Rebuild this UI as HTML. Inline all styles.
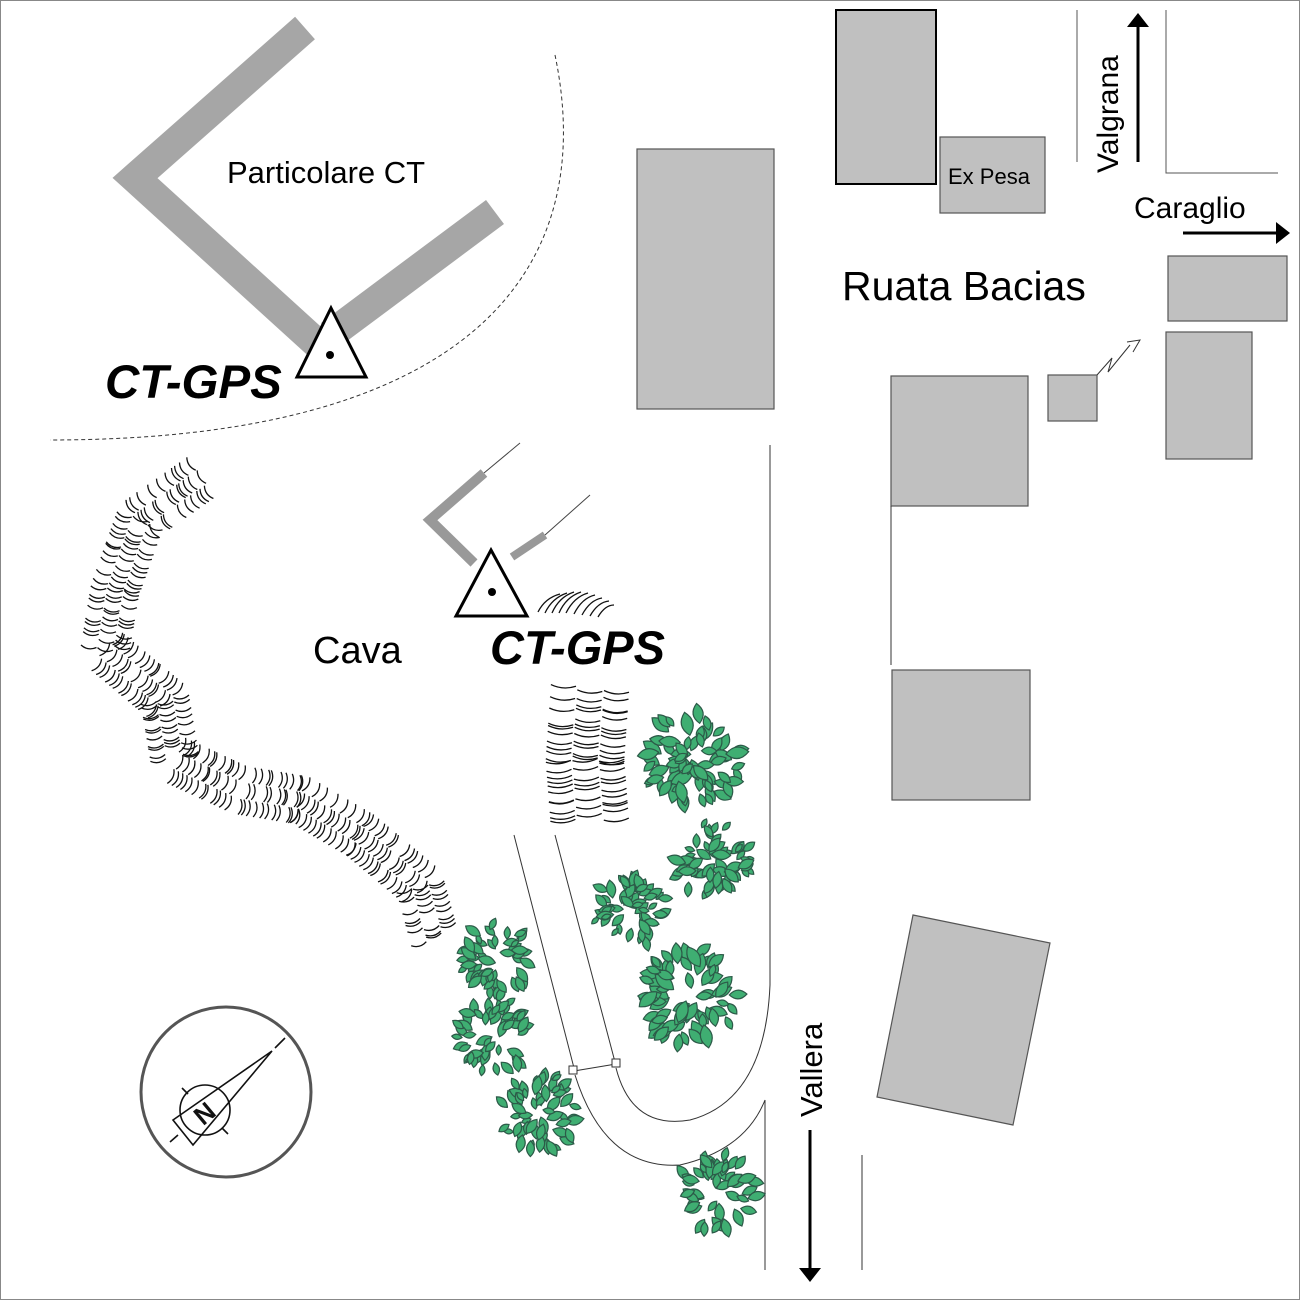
<!DOCTYPE html>
<html><head><meta charset="utf-8"><style>
html,body{margin:0;padding:0;background:#fff}
svg{display:block}
text{font-family:"Liberation Sans",sans-serif}
</style></head><body>
<svg id="s" width="1300" height="1300" viewBox="0 0 1300 1300" xmlns="http://www.w3.org/2000/svg">
<defs>
<marker id="ah" markerWidth="14" markerHeight="22" refX="12" refY="11" orient="auto" markerUnits="userSpaceOnUse"><path d="M0,0 L14,11 L0,22 z" fill="#000"/></marker>
</defs>
<rect x="0.5" y="0.5" width="1299" height="1299" fill="#fff" stroke="#888"/>
<polyline points="305,28 135,178 322,348" fill="none" stroke="#a6a6a6" stroke-width="30"/>
<line x1="330" y1="335" x2="495" y2="212" stroke="#a6a6a6" stroke-width="30"/>
<polygon points="331,308 366,377 297,377" fill="#fff" stroke="#000" stroke-width="3"/>
<circle cx="330" cy="355" r="4" fill="#000"/>
<text x="227" y="183" font-size="31">Particolare CT</text>
<text x="105" y="398" font-size="47.5" font-weight="bold" font-style="italic">CT-GPS</text>
<path d="M555,55 C600,270 470,440 50,440" fill="none" stroke="#333" stroke-dasharray="4,3"/>
<g fill="#c0c0c0" stroke="#555" stroke-width="1.2">
<rect x="637" y="149" width="137" height="260"/>
<rect x="940" y="137" width="105" height="76"/>
<rect x="1168" y="256" width="119" height="65"/>
<rect x="1166" y="332" width="86" height="127"/>
<rect x="1048" y="375" width="49" height="46"/>
<rect x="891" y="376" width="137" height="130"/>
<rect x="892" y="670" width="138" height="130"/>
<polygon points="913,915 1050,943 1013,1125 877,1097"/>
</g>
<rect x="836" y="10" width="100" height="174" fill="#c0c0c0" stroke="#000" stroke-width="2"/>
<text x="948" y="184" font-size="22">Ex Pesa</text>
<line x1="891" y1="506" x2="891" y2="665" stroke="#333"/>
<polyline points="1097,375 1112,358 1108,372 1130,345" fill="none" stroke="#333"/>
<polyline points="1127,342 1140,340 1133,352" fill="none" stroke="#333"/>
<line x1="1077" y1="10" x2="1077" y2="162" stroke="#555"/>
<polyline points="1166,10 1166,173 1278,173" fill="none" stroke="#555"/>
<line x1="1138" y1="162" x2="1138" y2="15" stroke="#000" stroke-width="3" marker-end="url(#ah)"/>
<text transform="translate(1118,173) rotate(-90)" font-size="30">Valgrana</text>
<text x="1134" y="218" font-size="30">Caraglio</text>
<line x1="1183" y1="233" x2="1288" y2="233" stroke="#000" stroke-width="3" marker-end="url(#ah)"/>
<text x="842" y="300" font-size="41">Ruata Bacias</text>
<g fill="none" stroke="#333" stroke-width="1">
<path d="M770,445 L770,985 Q765,1100 690,1120 Q632,1130 616,1068"/>
<path d="M575,1075 Q605,1170 680,1165 Q745,1150 765,1100 L765,1270"/>
<line x1="862" y1="1155" x2="862" y2="1270"/>
<line x1="514" y1="835" x2="574" y2="1068"/>
<line x1="555" y1="835" x2="615" y2="1062"/>
<line x1="574" y1="1071" x2="616" y2="1064"/>
<rect x="569" y="1066" width="8" height="8" fill="#fff"/>
<rect x="612" y="1059" width="8" height="8" fill="#fff"/>
</g>
<text transform="translate(822,1117) rotate(-90)" font-size="31">Vallera</text>
<line x1="810" y1="1130" x2="810" y2="1280" stroke="#000" stroke-width="3" marker-end="url(#ah)"/>
<polyline points="484,473 430,520 474,563" fill="none" stroke="#999" stroke-width="10"/>
<line x1="512" y1="557" x2="545" y2="535" stroke="#999" stroke-width="8"/>
<line x1="484" y1="473" x2="520" y2="443" stroke="#444"/>
<line x1="545" y1="535" x2="590" y2="495" stroke="#444"/>
<polygon points="491,550 527,616 456,616" fill="#fff" stroke="#000" stroke-width="3"/>
<circle cx="492" cy="592" r="4" fill="#000"/>
<text x="490" y="664" font-size="47" font-weight="bold" font-style="italic">CT-GPS</text>
<text x="313" y="663" font-size="38">Cava</text>
<circle cx="226" cy="1092" r="85" fill="none" stroke="#555" stroke-width="3"/>
<g stroke="#111" stroke-width="1.6" fill="none">
<line x1="170" y1="1142" x2="178" y2="1135"/>
<line x1="275" y1="1048" x2="285" y2="1038"/>
<circle cx="205" cy="1110" r="25"/>
<polygon points="272,1051 173,1120 193,1145"/>
<line x1="182" y1="1088" x2="188" y2="1094"/>
<line x1="222" y1="1128" x2="228" y2="1134"/>
<text x="195" y="1122" font-size="26" font-weight="bold" fill="#111" stroke="none" transform="rotate(-40 205 1113)">N</text>
</g>
<g fill="none" stroke="#111" stroke-width="1.3">
<path d="M538,612 Q545,598 560,594"/><path d="M545,613 Q552,598 567,593"/><path d="M552,613 Q559,597 574,592"/>
<path d="M559,613 Q566,597 581,592"/><path d="M566,613 Q574,597 588,593"/><path d="M574,614 Q582,598 595,595"/>
<path d="M582,615 Q590,600 602,598"/><path d="M590,616 Q598,602 609,601"/><path d="M598,617 Q605,605 614,605"/>
</g>
<g id="hatch" fill="none" stroke="#111" stroke-width="1.3"></g>
<g id="trees"></g>
</svg>
<script>
(function(){
var NS="http://www.w3.org/2000/svg";
var h=document.getElementById('hatch');
function seed(n){var x=Math.sin(n*12.9898)*43758.5453;return x-Math.floor(x);}
var sc=1;
function band(pts,w,step){
 for(var i=0;i<pts.length-1;i++){
  var a=pts[i],b=pts[i+1],dx=b[0]-a[0],dy=b[1]-a[1],L=Math.hypot(dx,dy);
  var ux=dx/L,uy=dy/L,nx=-uy,ny=ux;
  for(var t=0;t<L;t+=step){
   sc++;
   var cx=a[0]+ux*t,cy=a[1]+uy*t;
   var segs=3;
   for(var k=0;k<segs;k++){
    if(seed(sc*7+k)<0.12) continue;
    var off=(seed(sc*3+k)-0.5)*6;
    var f0=-0.5+k/segs+0.01, f1=-0.5+(k+1)/segs-0.01;
    var x0=cx+nx*w*f0+ux*off,y0=cy+ny*w*f0+uy*off,x1=cx+nx*w*f1+ux*off,y1=cy+ny*w*f1+uy*off;
    var mx=(x0+x1)/2+ux*5,my=(y0+y1)/2+uy*5;
    var p=document.createElementNS(NS,'path');
    p.setAttribute('d',"M"+x0.toFixed(1)+","+y0.toFixed(1)+" Q"+mx.toFixed(1)+","+my.toFixed(1)+" "+x1.toFixed(1)+","+y1.toFixed(1));
    h.appendChild(p);
   }
  }
 }
}
band([[200,478],[140,520],[115,590],[105,650],[165,700],[175,760],[240,790],[300,800],[360,835],[420,885],[435,940]],50,6);
band([[590,688],[585,760],[590,825]],80,6);
var g=document.getElementById('trees');
var trees=[[693,758,52],[712,860,42],[630,910,40],[690,997,52],[497,957,40],[494,1036,40],[540,1112,42],[717,1193,42]];
var n=1;
trees.forEach(function(t){
 var cx=t[0],cy=t[1],r=t[2];
 var cnt=Math.round(r*1.4);
 for(var i=0;i<cnt;i++){
  n++;
  var ang=seed(n)*Math.PI*2, rr=r*(0.45+0.5*seed(n+99));
  if(seed(n+7)<0.2) rr=r*0.2+r*0.2*seed(n+3);
  var x=cx+Math.cos(ang)*rr,y=cy+Math.sin(ang)*rr;
  var len=r*0.38*(0.6+0.6*seed(n+5)),wd=len*0.5;
  var rot=ang*180/Math.PI+(seed(n+11)-0.5)*80;
  var p=document.createElementNS(NS,'path');
  p.setAttribute('d','M'+(-len/2)+',0 Q0,'+(-wd)+' '+(len/2)+',0 Q0,'+wd+' '+(-len/2)+',0Z');
  p.setAttribute('transform','translate('+x.toFixed(1)+','+y.toFixed(1)+') rotate('+rot.toFixed(0)+')');
  p.setAttribute('fill','#3fae72');p.setAttribute('stroke','#2c5a48');p.setAttribute('stroke-width','1.2');
  g.appendChild(p);
 }
});
})();
</script>
</body></html>
